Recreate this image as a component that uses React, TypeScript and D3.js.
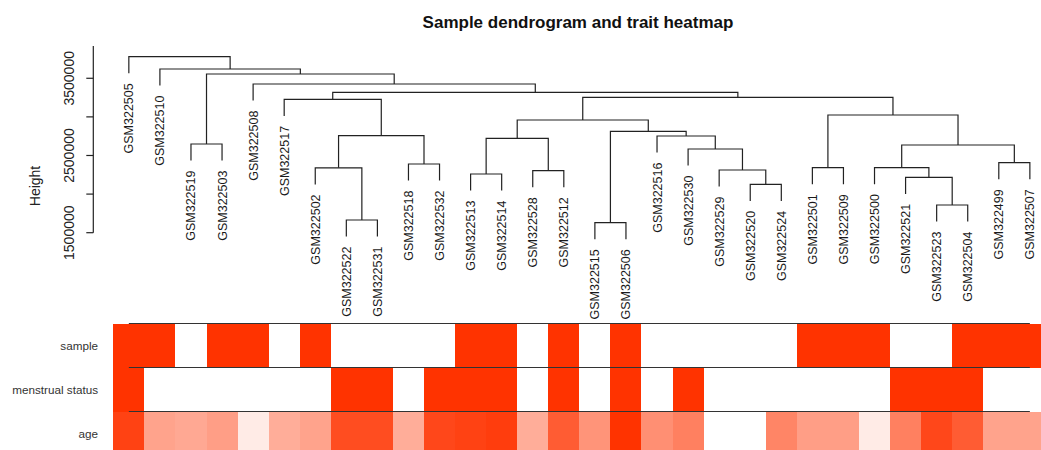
import React from "react";
import * as d3 from "d3";

const title = "Sample dendrogram and trait heatmap";

// leaf order as drawn, left to right
const leaves = [
  "GSM322505", "GSM322510", "GSM322519", "GSM322503", "GSM322508", "GSM322517",
  "GSM322502", "GSM322522", "GSM322531", "GSM322518", "GSM322532", "GSM322513",
  "GSM322514", "GSM322528", "GSM322512", "GSM322515", "GSM322506", "GSM322516",
  "GSM322530", "GSM322529", "GSM322520", "GSM322524", "GSM322501", "GSM322509",
  "GSM322500", "GSM322521", "GSM322523", "GSM322504", "GSM322499", "GSM322507",
];

// [node, left, right, merge height]
const merges: [string, string, string, number][] = [
  ["m1", "GSM322515", "GSM322506", 1629500],
  ["m2", "GSM322522", "GSM322531", 1664500],
  ["m3", "GSM322523", "GSM322504", 1858800],
  ["m4", "GSM322520", "GSM322524", 2126900],
  ["m5", "GSM322521", "m3", 2217600],
  ["m6", "GSM322513", "GSM322514", 2260300],
  ["m7", "GSM322528", "GSM322512", 2303100],
  ["m8", "GSM322529", "m4", 2312200],
  ["m9", "GSM322502", "m2", 2340000],
  ["m10", "GSM322501", "GSM322509", 2342000],
  ["m11", "GSM322500", "m5", 2344000],
  ["m12", "GSM322518", "GSM322532", 2389900],
  ["m13", "GSM322499", "GSM322507", 2406700],
  ["m14", "GSM322530", "m8", 2584200],
  ["m15", "m11", "m13", 2636000],
  ["m16", "GSM322519", "GSM322503", 2648900],
  ["m17", "m6", "m7", 2722800],
  ["m18", "GSM322516", "m14", 2752600],
  ["m19", "m9", "m12", 2756400],
  ["m20", "m1", "m18", 2813400],
  ["m21", "m17", "m20", 2959800],
  ["m22", "m10", "m15", 3024600],
  ["m23", "GSM322517", "m19", 3227900],
  ["m24", "m21", "m22", 3253800],
  ["m25", "m23", "m24", 3318600],
  ["m26", "GSM322508", "m25", 3426000],
  ["m27", "m16", "m26", 3555600],
  ["m28", "GSM322510", "m27", 3620000],
  ["m29", "GSM322505", "m28", 3779700],
];

const traitNames = ["sample", "menstrual status", "age"];
const sampleFlag = [1, 1, 0, 1, 1, 0, 1, 0, 0, 0, 0, 1, 1, 0, 1, 0, 1, 0, 0, 0, 0, 0, 1, 1, 1, 0, 0, 1, 1, 1];
const menstrualFlag = [1, 0, 0, 0, 0, 0, 0, 1, 1, 0, 1, 1, 1, 0, 1, 0, 1, 0, 1, 0, 0, 0, 0, 0, 0, 1, 1, 1, 0, 0];
const ageYears = [62, 43, 42, 44, 29, 41, 43, 60, 60, 41, 61, 62, 63, 41, 57, 46, 65, 47, 50, 25, 25, 49, 44, 44, 29, 50, 61, 57, 43, 43];

const yDomain = [1500000, 3918000];

type TreeNode = { id: string; height: number; children?: TreeNode[] };

const font = "'Liberation Sans', Arial, sans-serif";

export default function App() {
  const width = 1041;
  const height = 450;

  const x = d3.scaleBand<string>().domain(leaves).range([113.3, 113.3 + 31.07 * leaves.length]);
  const bw = x.bandwidth();
  const y = d3.scaleLinear().domain(yDomain).range([232.7, 46]);

  // build the tree
  const nodes = new Map<string, TreeNode>();
  leaves.forEach((l) => nodes.set(l, { id: l, height: 0 }));
  merges.forEach(([id, a, b, h]) => nodes.set(id, { id, height: h, children: [nodes.get(a)!, nodes.get(b)!] }));
  const root = d3.hierarchy(nodes.get(merges[merges.length - 1][0])!);

  const pos = new Map<any, number>();
  root.eachAfter((n) => {
    if (n.children) pos.set(n, d3.mean(n.children, (c) => pos.get(c)!)!);
    else pos.set(n, x(n.data.id)! + bw / 2);
  });

  const hs = merges.map((m) => m[3]);
  const hang = 0.1 * (d3.max(hs)! - d3.min(hs)!);
  const topOf = (n: d3.HierarchyNode<TreeNode>) =>
    n.children ? y(n.data.height) : y(n.parent!.data.height - hang);

  const links = root.descendants().filter((n) => n.children);
  const leafNodes = root.leaves();

  const rowY = d3.scaleBand<string>().domain(traitNames).range([323.5, 455.5]);
  const flagColor = d3.scaleLinear<string>().domain([0, 1]).range(["#ffffff", "#ff3300"]);
  const ageColor = d3
    .scaleLinear<string>()
    .domain(d3.extent(ageYears) as [number, number])
    .range(["#ffffff", "#ff3300"])
    .interpolate(d3.interpolateRgb);
  const rowFill = [
    (i: number) => flagColor(sampleFlag[i]),
    (i: number) => flagColor(menstrualFlag[i]),
    (i: number) => ageColor(ageYears[i]),
  ];

  const ticks = y.ticks(5).filter((t) => t >= 1500000);
  const axisX = 93.3;
  const lineX0 = x(leaves[0])! + bw / 2;
  const lineX1 = x(leaves[leaves.length - 1])! + bw / 2;

  return (
    <svg width={width} height={height} style={{ position: "absolute", left: 0, top: 0, background: "#fff" }} fontFamily={font}>
      <text x={578} y={28} textAnchor="middle" fontWeight="bold" fontSize={17} fill="#111">
        {title}
      </text>

      {/* y axis */}
      <line x1={axisX} x2={axisX} y1={y(yDomain[0])} y2={y(yDomain[1])} stroke="#222" strokeWidth={1.2} />
      {ticks.map((t, i) => (
        <g key={t}>
          <line x1={axisX - 7} x2={axisX} y1={y(t)} y2={y(t)} stroke="#222" strokeWidth={1.2} />
          {i % 2 === 0 && (
            <text transform={`translate(73.5,${y(t)}) rotate(-90)`} textAnchor="middle" fontSize={14} fill="#222">
              {t}
            </text>
          )}
        </g>
      ))}
      <text transform="translate(40,186) rotate(-90)" textAnchor="middle" fontSize={14} fill="#222">
        Height
      </text>

      {/* dendrogram */}
      <g fill="none" stroke="#222" strokeWidth={1.2}>
        {links.map((n) => {
          const [l, r] = n.children!;
          return (
            <path
              key={n.data.id}
              d={`M${pos.get(l)},${topOf(l)}V${y(n.data.height)}H${pos.get(r)}V${topOf(r)}`}
            />
          );
        })}
      </g>
      {leafNodes.map((n) => (
        <text
          key={n.data.id}
          transform={`translate(${pos.get(n)! + 4.5},${topOf(n) + 10}) rotate(-90)`}
          textAnchor="end"
          fontSize={12.5}
          fill="#1a1a1a"
        >
          {n.data.id}
        </text>
      ))}

      {/* trait heatmap */}
      {traitNames.map((t, r) => (
        <g key={t}>
          <g shapeRendering="crispEdges">
            {leaves.map((l, i) => (
              <rect key={l} x={x(l)!} y={rowY(t)!} width={bw + 0.5} height={rowY.bandwidth()} fill={rowFill[r](i)} />
            ))}
          </g>
          <text
            x={98}
            y={rowY(t)! + rowY.bandwidth() / 2}
            textAnchor="end"
            dominantBaseline="central"
            fontSize={11.7}
            fill="#333"
          >
            {t}
          </text>
        </g>
      ))}
      {traitNames.map((t) => (
        <line key={t} x1={lineX0} x2={lineX1} y1={rowY(t)!} y2={rowY(t)!} stroke="#333" strokeWidth={1.2} />
      ))}
    </svg>
  );
}
